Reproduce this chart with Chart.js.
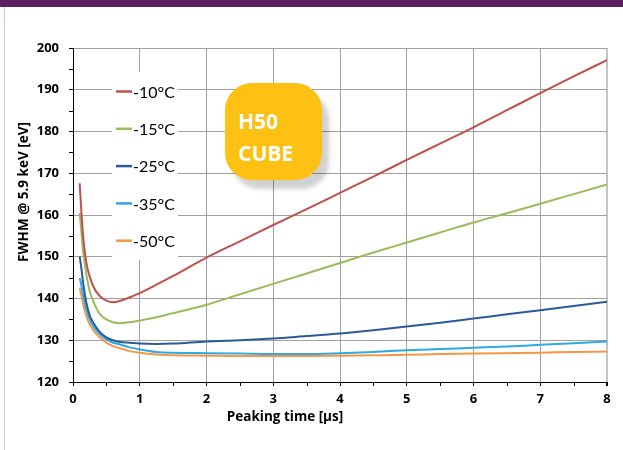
<!DOCTYPE html>
<html>
<head>
<meta charset="utf-8">
<script src="https://cdn.jsdelivr.net/npm/chart.js@4/dist/chart.umd.min.js"></script>
<style>
  html, body { margin: 0; padding: 0; background: #ffffff; }
  #wrap { position: relative; width: 623px; height: 450px; overflow: hidden; }
  #topbar { position: absolute; left: 0; top: 0; width: 623px; height: 7px; background: #5c1f60; }
  #frame { position: absolute; left: 4px; top: 7px; width: 1px; height: 443px; background: #c8c8c8; }
  #c { position: absolute; left: 0; top: 0; }
  #badge { position: absolute; left: 225px; top: 83px; width: 97px; height: 97px; border-radius: 27px;
           background: #fdc113; box-shadow: 7px 9px 4px rgba(0,0,0,0.18);
           font-family: "Open Sans", sans-serif; font-weight: bold; color: #ffffff; font-size: 21px; line-height: 31px; }
  #badge div { position: absolute; left: 13px; }
</style>
</head>
<body>
<div id="wrap">
  <canvas id="c" width="623" height="450"></canvas>
  <div id="topbar"></div>
  <div id="frame"></div>
  <div id="badge"><div style="top:23px">H50</div><div style="top:55px">CUBE</div></div>
</div>
<script>
// ---- data ----
const peakingTimes = [0.1,0.125,0.15,0.2,0.25,0.3,0.4,0.5,0.6,0.7,0.85,1,1.25,1.5,2,2.5,3,3.5,4,4.5,5,5.5,6,6.5,7,7.5,8];
const seriesLabels = ['-10°C','-15°C','-25°C','-35°C','-50°C'];
const fwhmMinus10 = [167.6,160.9,155.3,148.6,145.3,143.0,140.6,139.5,139.1,139.4,140.3,141.3,143.3,145.4,149.8,153.7,157.6,161.4,165.3,169.2,173.2,177.1,181.0,185.1,189.2,193.2,197.1];
const fwhmMinus15 = [160.5,156.0,151.5,145.8,141.8,139.5,136.3,135.0,134.3,134.1,134.3,134.7,135.5,136.5,138.5,141.0,143.5,146.0,148.5,151.0,153.4,155.8,158.2,160.4,162.7,165.0,167.3];
const fwhmMinus25 = [150.1,147.3,144.0,139.0,136.0,134.3,132.0,130.7,130.0,129.6,129.4,129.2,129.1,129.2,129.7,130.0,130.4,131.0,131.6,132.4,133.3,134.2,135.2,136.2,137.2,138.2,139.2];
const fwhmMinus35 = [144.9,143.2,140.9,137.4,135.0,133.4,131.5,130.2,129.4,129.0,128.3,127.8,127.2,127.0,126.9,126.8,126.7,126.7,126.9,127.2,127.6,127.9,128.2,128.5,128.9,129.3,129.7];
const fwhmMinus50 = [142.5,140.9,138.8,135.8,133.8,132.5,130.7,129.4,128.6,128.1,127.4,127.0,126.6,126.4,126.3,126.2,126.2,126.2,126.3,126.4,126.5,126.7,126.8,126.9,127.0,127.2,127.3];
const xTicks = [0,1,2,3,4,5,6,7,8];
const yTicks = [120,130,140,150,160,170,180,190,200];
const xTitle = 'Peaking time [µs]';
const yTitle = 'FWHM @ 5.9 keV [eV]';

const colors = ['#c0504d','#9bbb59','#2c5a97','#2eaae2','#f79646'];
const allSeries = [fwhmMinus10, fwhmMinus15, fwhmMinus25, fwhmMinus35, fwhmMinus50];

const datasets = allSeries.map((s, i) => ({
  label: seriesLabels[i],
  data: s.map((v, k) => ({ x: peakingTimes[k], y: v })),
  borderColor: colors[i],
  backgroundColor: colors[i],
  borderWidth: 2,
  pointRadius: 0,
  fill: false,
  cubicInterpolationMode: 'monotone'
}));

const BOLDFONT = '"Open Sans", sans-serif';
const LEGFONT = 'Lato, "Open Sans", sans-serif';

const decor = {
  id: 'decor',
  beforeDatasetsDraw(chart) {
    const ctx = chart.ctx;
    ctx.save();
    // legend box (over the grid)
    ctx.fillStyle = '#ffffff';
    ctx.fillRect(112, 72, 66, 188);
    ctx.font = '16px ' + LEGFONT;
    ctx.textBaseline = 'middle';
    ctx.textAlign = 'left';
    chart.data.datasets.forEach((ds, i) => {
      const y = 91.5 + i * 37.3;
      ctx.strokeStyle = ds.borderColor;
      ctx.lineWidth = 2.5;
      ctx.beginPath();
      ctx.moveTo(116, y);
      ctx.lineTo(132, y);
      ctx.stroke();
      ctx.fillStyle = '#000000';
      ctx.fillText(ds.label, 133, y + 1);
    });
    ctx.restore();
  },
  afterDraw(chart) {
    const ctx = chart.ctx;
    const xs = chart.scales.x, ys = chart.scales.y;
    ctx.save();
    ctx.strokeStyle = '#000000';
    ctx.lineWidth = 1;
    // minor ticks
    for (let v = 125; v < 200; v += 10) {
      const py = Math.round(ys.getPixelForValue(v)) + 0.5;
      ctx.beginPath(); ctx.moveTo(chart.chartArea.left - 4, py); ctx.lineTo(chart.chartArea.left, py); ctx.stroke();
    }
    for (let v = 0.5; v < 8; v += 1) {
      const px = Math.round(xs.getPixelForValue(v)) + 0.5;
      ctx.beginPath(); ctx.moveTo(px, chart.chartArea.bottom); ctx.lineTo(px, chart.chartArea.bottom + 4); ctx.stroke();
    }
    // axis titles
    ctx.fillStyle = '#000000';
    ctx.font = 'bold 13.5px ' + BOLDFONT;
    ctx.textAlign = 'center';
    ctx.textBaseline = 'middle';
    ctx.fillText(xTitle, 285, 417);
    ctx.translate(24, 192);
    ctx.rotate(-Math.PI / 2);
    ctx.fillText(yTitle, 0, 0);
    ctx.restore();
  }
};

new Chart(document.getElementById('c'), {
  type: 'line',
  data: { datasets },
  plugins: [decor],
  options: {
    responsive: false,
    animation: false,
    devicePixelRatio: 1,
    layout: { padding: { top: 48, right: 16, left: 0, bottom: 0 } },
    plugins: { legend: { display: false }, tooltip: { enabled: false } },
    scales: {
      x: {
        type: 'linear',
        min: 0, max: 8,
        afterFit(scale) { scale.height = 68; },
        afterBuildTicks(scale) { scale.ticks = xTicks.map(v => ({ value: v })); },
        ticks: { color: '#000000', font: { family: BOLDFONT, weight: 'bold', size: 13 }, padding: 5, maxRotation: 0 },
        grid: {
          color: (c) => (c.tick && c.tick.value === 8) ? '#c4c4c4' : '#a0a0a0',
          lineWidth: (c) => (c.tick && c.tick.value === 8) ? 2 : 1,
          tickColor: '#000000', tickLength: 4, drawTicks: true
        },
        border: { color: '#000000', width: 1 }
      },
      y: {
        type: 'linear',
        min: 120, max: 200,
        afterFit(scale) { scale.width = 73; },
        afterBuildTicks(scale) { scale.ticks = yTicks.map(v => ({ value: v })); },
        ticks: { color: '#000000', font: { family: BOLDFONT, weight: 'bold', size: 13 }, padding: 10 },
        grid: { color: '#a0a0a0', lineWidth: 1, tickColor: '#000000', tickLength: 4, drawTicks: true },
        border: { color: '#000000', width: 1 }
      }
    }
  }
});
</script>
</body>
</html>
